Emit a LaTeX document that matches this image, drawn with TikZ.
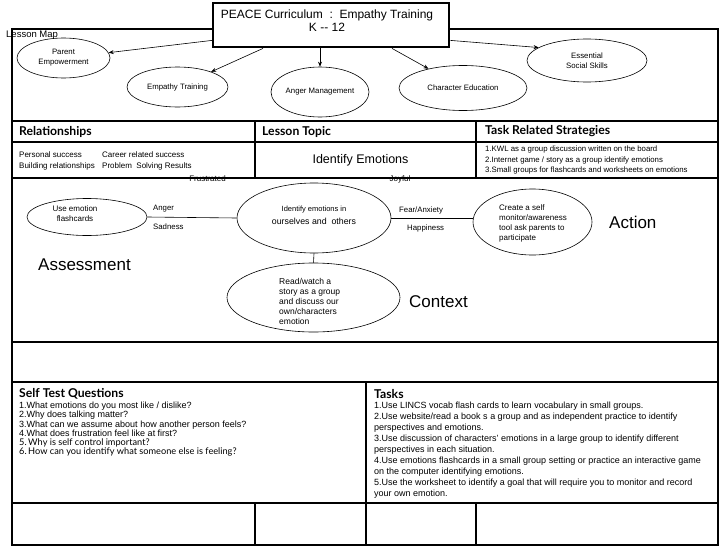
\documentclass[tikz,border=0pt]{standalone}
\usepackage{fontspec}
\setmainfont{Liberation Sans}
\newfontfamily\hdr{Lato}
\usetikzlibrary{shapes.geometric,arrows.meta}
\begin{document}
\begin{tikzpicture}[x=1pt,y=-1pt,
 frame/.style={line width=1.6pt},
 lowframe/.style={line width=1.1pt},
 oval/.style={draw, ellipse, line width=0.6pt, inner sep=0, align=center, font=\fontsize{7.8}{10}\selectfont},
 conn/.style={line width=0.6pt, -{Stealth[length=5pt,width=4pt]}},
 link/.style={line width=0.6pt},
 lbl/.style={inner sep=0, anchor=west, align=left, font=\fontsize{7.8}{10}\selectfont},
 ctext/.style={inner sep=0, align=center, font=\fontsize{7.8}{10}\selectfont},
 hd/.style={inner sep=0, anchor=west, font=\hdr\bfseries\fontsize{12.2}{14}\selectfont},
 big/.style={inner sep=0, anchor=west, font=\fontsize{17}{20}\selectfont},
]
\useasboundingbox (0,0) rectangle (728,546);
\fill[white] (0,0) rectangle (728,546);

% labels that are crossed by lines
\node[ctext, font=\fontsize{8}{9}\selectfont] (frus) at (207.5,179) {Frustrated};
\node[ctext, font=\fontsize{8}{9}\selectfont] (joy) at (400,179) {Joyful};

% frame and grid
\draw[frame] (12,29) rectangle (718,503);
\draw[frame] (12,121) -- (718,121);
\draw[frame] (12,142) -- (718,142);
\draw[frame] (12,178) -- (718,178);
\draw[frame] (12,342) -- (718,342);
\draw[frame] (12,382) -- (718,382);
\draw[frame] (255,121) -- (255,178);
\draw[frame] (476,121) -- (476,178);
\draw[frame] (366,382) -- (366,503);
\draw[lowframe] (12,503) -- (12,545) -- (718,545) -- (718,503);
\draw[lowframe] (255,503) -- (255,545);
\draw[lowframe] (366,503) -- (366,545);
\draw[lowframe] (476,503) -- (476,545);

\node[inner sep=0, anchor=west, font=\fontsize{9.5}{11}\selectfont] (lmap) at (6,35) {Lesson Map};

% title
\node[draw, line width=2.4pt, fill=white, minimum width=236, minimum height=44, anchor=north west, inner sep=0] (title) at (212,2) {};
\node[ctext, font=\fontsize{12}{13}\selectfont] (titletxt) at (327,20.5) {PEACE Curriculum\ \ :\ \ Empathy Training\\K -{}- 12};

% lesson map ellipses
\node[oval, minimum width=93, minimum height=40] (parent) at (63.5,58) {Parent\\Empowerment};
\node[oval, minimum width=101, minimum height=40] (empathy) at (177.5,87) {Empathy Training};
\node[oval, minimum width=98, minimum height=50] (anger) at (320,92) {Anger Management};
\node[oval, minimum width=128, minimum height=45] (character) at (463,88) {Character Education};
\node[oval, minimum width=120, minimum height=43] (essential) at (587,60.5) {Essential\\Social Skills};

\draw[conn] ([yshift=8pt]title.south west) -- (parent);
\draw[conn] ([xshift=51pt]title.south west) -- (empathy);
\draw[conn] (title.south west -| anger.north) -- (anger.north);
\draw[conn] ([xshift=180pt]title.south west) -- (character);
\draw[conn] ([yshift=8pt]title.south east) -- (essential.165);

% headers
\node[hd] (hrel) at (19,131.5) {Relationships};
\node[hd] (htopic) at (262,131.5) {Lesson Topic};
\node[hd] (htask) at (485,131.5) {Task Related Strategies};

\node[lbl, font=\fontsize{8}{10.5}\selectfont] (rel1) at (19,161) {Personal success\\Building relationships};
\node[lbl, font=\fontsize{8}{10.5}\selectfont] (rel2) at (102,161) {Career related success\\Problem\ \ Solving Results};
\node[ctext, font=\fontsize{12.5}{14}\selectfont] (topic) at (360.5,160) {Identify Emotions};
\node[lbl, font=\fontsize{7.8}{10.5}\selectfont] (tasks) at (485,160) {1.KWL as a group discussion written on the board\\2.Internet game / story as a group identify emotions\\3.Small groups for flashcards and worksheets on emotions};

% middle map
\node[draw, ellipse, line width=0.6pt, minimum width=120, minimum height=37] (flash) at (87,217) {};
\node[ctext, font=\fontsize{8}{9.5}\selectfont] (flasht) at (75,213.5) {Use emotion\\flashcards};
\node[draw, ellipse, line width=0.6pt, minimum width=154, minimum height=70] (identify) at (314,218) {};
\node[ctext, font=\fontsize{7.5}{13.5}\selectfont] (identt) at (314,215.5) {Identify emotions in\\{\fontsize{8.8}{10}\selectfont ourselves and\ \ others}};
\node[draw, ellipse, line width=0.6pt, minimum width=119, minimum height=66] (create) at (532.5,222) {};
\node[lbl, font=\fontsize{8}{9.8}\selectfont] (createt) at (499,223.5) {Create a self\\monitor/awareness\\tool ask parents to\\participate};
\node[draw, ellipse, line width=0.6pt, minimum width=173, minimum height=69] (read) at (313.5,297.5) {};
\node[lbl, font=\fontsize{8.5}{9.8}\selectfont] (readt) at (279,301.5) {Read/watch a\\story as a group\\and discuss our\\own/characters\\emotion};

\draw[link] (flash.east) -- (identify.west);
\draw[link] (identify.east) -- (identify.east -| create.west);
\draw[link] (identify.south) -- (read.north);

\node[lbl] (anger2) at (153,209) {Anger};
\node[lbl] (sad) at (153,227) {Sadness};
\node[lbl] (fear) at (399,210) {Fear/Anxiety};
\node[lbl] (happy) at (407,228) {Happiness};

\node[big] (action) at (609,222) {Action};
\node[big] (assess) at (38,265) {Assessment};
\node[big] (context) at (409,302) {Context};

% self test
\node[hd] (hself) at (19,394) {Self Test Questions};
\node[lbl, anchor=north west, font=\fontsize{9}{9.2}\selectfont] (selfq) at (19,402) {1.What emotions do you most like / dislike?\\2.Why does talking matter?\\3.What can we assume about how another person feels?\\4.What does frustration feel like at first?\\{\hdr\fontsize{9.2}{9.2}\selectfont 5.\,Why is self control important?}\\{\hdr\fontsize{9.2}{9.2}\selectfont 6.\,How can you identify what someone else is feeling?}};

\node[hd] (htasks) at (374,394) {Tasks};
\node[lbl, anchor=north west, font=\fontsize{9}{11}\selectfont] (taskl) at (374,402) {1.Use LINCS vocab flash cards to learn vocabulary in small groups.\\2.Use website/read a book s a group and as independent practice to identify\\perspectives and emotions.\\3.Use discussion of characters' emotions in a large group to identify different\\perspectives in each situation.\\4.Use emotions flashcards in a small group setting or practice an interactive game\\on the computer identifying emotions.\\5.Use the worksheet to identify a goal that will require you to monitor and record\\your own emotion.};
\end{tikzpicture}
\end{document}
